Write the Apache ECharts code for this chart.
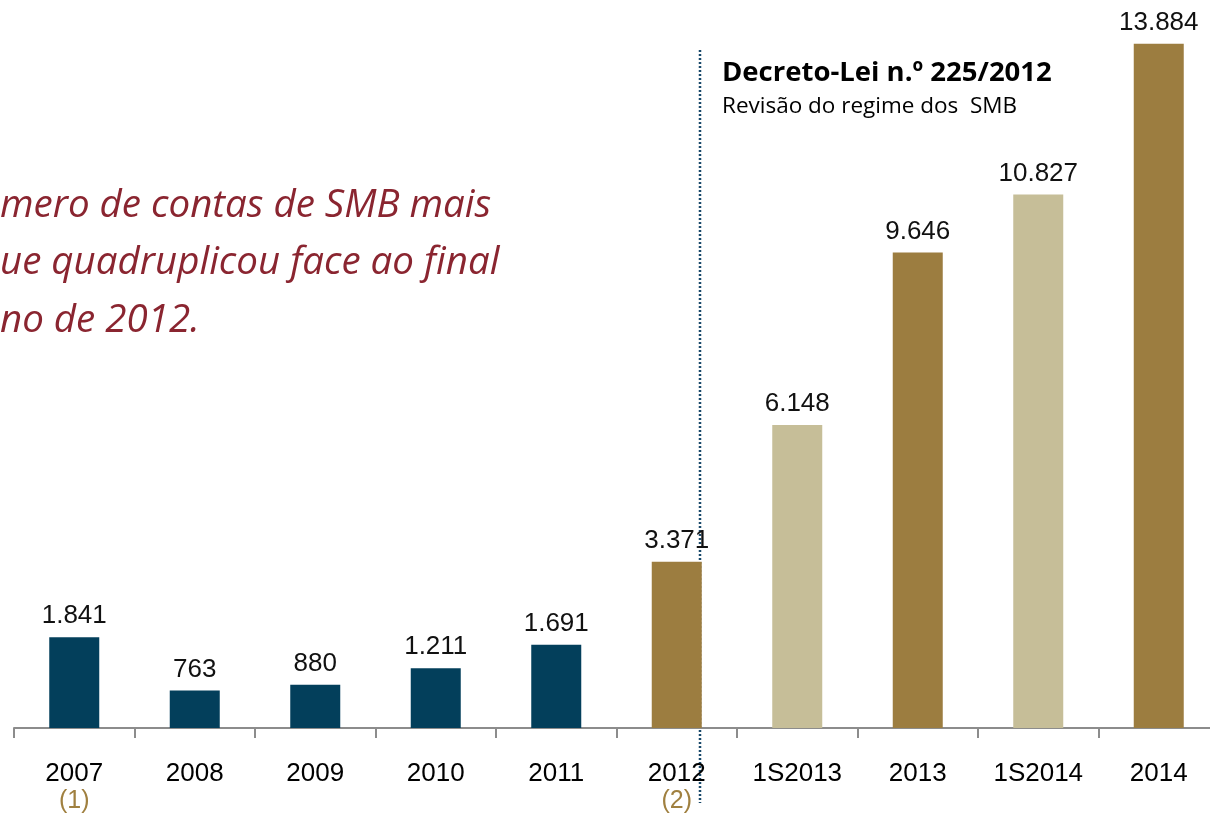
<!DOCTYPE html>
<html>
<head>
<meta charset="utf-8">
<script src="https://cdn.jsdelivr.net/npm/echarts@6/dist/echarts.min.js"></script>
<style>
  html,body{margin:0;padding:0;background:#fff;}
  #chart{width:1210px;height:816px;}
</style>
</head>
<body>
<div id="chart"></div>
<script>
// data
const categories = ['2007', '2008', '2009', '2010', '2011', '2012', '1S2013', '2013', '1S2014', '2014'];
const contas = [1841, 763, 880, 1211, 1691, 3371, 6148, 9646, 10827, 13884];
const notes = ['(1)', '', '', '', '', '(2)', '', '', '', ''];

const DARK = '#033f5b';
const GOLD = '#9c7d40';
const BEIGE = '#c6be98';

function barColor(i) {
    if (i < 5) return DARK;
    return (i % 2 === 1) ? GOLD : BEIGE;
}
function fmt(v) {
    return String(v).replace(/\B(?=(\d{3})+(?!\d))/g, '.');
}

const chart = echarts.init(document.getElementById('chart'));
chart.setOption({
    animation: false,
    grid: { left: 14, width: 1205, top: 38, height: 690, outerBoundsMode: 'none', containLabel: false },
    xAxis: {
        type: 'category',
        data: categories,
        axisLine: { lineStyle: { color: '#8c8c8c', width: 2 } },
        axisTick: { show: true, length: 10, lineStyle: { color: '#8c8c8c', width: 2 } },
        axisLabel: {
            margin: 32,
            interval: 0,
            formatter: function (v, i) {
                return notes[i] ? v + '\n{n|' + notes[i] + '}' : v;
            },
            color: '#000',
            fontFamily: '"Liberation Sans Narrow", "Liberation Sans", Arial',
            fontSize: 26,
            lineHeight: 27,
            rich: {
                n: { color: '#a08040', fontFamily: '"Liberation Sans", Arial', fontSize: 25, lineHeight: 28 }
            }
        }
    },
    yAxis: { type: 'value', min: 0, max: 14000, show: false, splitLine: { show: false } },
    series: [{
        type: 'bar',
        data: contas,
        barWidth: 50,
        itemStyle: { color: function (p) { return barColor(p.dataIndex); } },
        label: {
            show: true,
            position: 'top',
            distance: 8,
            color: '#111',
            fontFamily: '"Liberation Sans", Arial',
            fontSize: 26,
            formatter: function (p) { return fmt(p.value); }
        }
    }],
    graphic: [
        {
            type: 'line',
            shape: { x1: 700, y1: 50, x2: 700, y2: 803 },
            style: { stroke: '#1a4a6b', lineWidth: 2.5, lineDash: [2, 2] }
        },
        {
            type: 'text', x: 722, y: 73,
            style: { text: 'Decreto-Lei n.º 225/2012', fill: '#000', font: 'bold 27.5px "Open Sans", sans-serif', textVerticalAlign: 'middle' }
        },
        {
            type: 'text', x: 722, y: 107,
            style: { text: 'Revisão do regime dos  SMB', fill: '#000', font: '22.5px "Open Sans", sans-serif', textVerticalAlign: 'middle' }
        },
        {
            type: 'text', x: 0, y: 206,
            style: { text: 'mero de contas de SMB mais', fill: '#8a2530', font: 'italic 38.5px "Open Sans", sans-serif', textAlign: 'left', textVerticalAlign: 'middle' }
        },
        {
            type: 'text', x: 0, y: 263,
            style: { text: 'ue quadruplicou face ao final', fill: '#8a2530', font: 'italic 38.5px "Open Sans", sans-serif', textAlign: 'left', textVerticalAlign: 'middle' }
        },
        {
            type: 'text', x: 0, y: 321,
            style: { text: 'no de 2012.', fill: '#8a2530', font: 'italic 38.5px "Open Sans", sans-serif', textAlign: 'left', textVerticalAlign: 'middle' }
        }
    ]
});
</script>
</body>
</html>
